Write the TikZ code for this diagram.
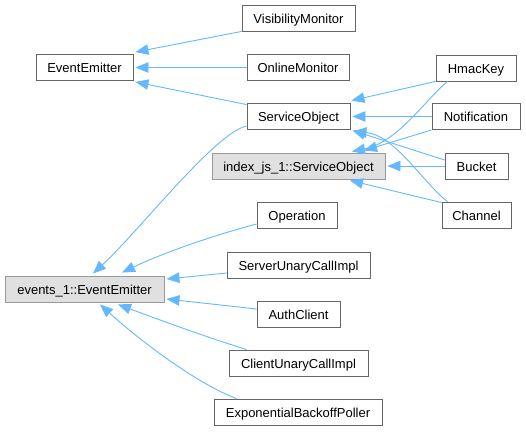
\documentclass[tikz,border=0pt]{standalone}
\usepackage{fontspec}
\setmainfont{Liberation Sans}
\usetikzlibrary{arrows.meta,calc}
\definecolor{edgeblue}{HTML}{63B8FF}
\definecolor{boxline}{HTML}{666666}
\definecolor{grayline}{HTML}{999999}
\definecolor{grayfill}{HTML}{E0E0E0}
\tikzset{
  box/.style={draw=boxline, line width=0.9pt, fill=white, minimum height=26pt, inner sep=0pt,
    font=\fontsize{13}{15}\selectfont, text height=11pt, text depth=1pt, align=center},
  graybox/.style={box, draw=grayline, fill=grayfill},
  edge/.style={draw=edgeblue, line width=0.9pt, -{Triangle[length=13pt,width=10.5pt]}},
}
\begin{document}
\begin{tikzpicture}[x=1pt,y=-1pt]
\useasboundingbox (0,0) rectangle (526,431);
% nodes
\node[box, minimum width=97pt] (EE) at (84.5,67.5) {EventEmitter};
\node[box, minimum width=113pt] (VM) at (298.5,18) {VisibilityMonitor};
\node[box, minimum width=102pt] (OM) at (298,67.5) {OnlineMonitor};
\node[box, minimum width=103pt] (SO) at (298.5,116) {ServiceObject};
\node[graybox, minimum width=173pt] (ISO) at (298.5,166) {index\_js\_1::ServiceObject};
\node[box, minimum width=80pt] (HK) at (476,68) {HmacKey};
\node[box, minimum width=88pt] (NT) at (476,116.5) {Notification};
\node[box, minimum width=63pt] (BK) at (476.5,166) {Bucket};
\node[box, minimum width=69pt] (CH) at (476.5,215) {Channel};
\node[box, minimum width=80pt] (OP) at (297,215) {Operation};
\node[box, minimum width=143pt] (SU) at (298.5,265) {ServerUnaryCallImpl};
\node[box, minimum width=83pt] (AC) at (298.5,314) {AuthClient};
\node[box, minimum width=139pt] (CU) at (298.5,363) {ClientUnaryCallImpl};
\node[box, minimum width=168pt] (EB) at (298,412) {ExponentialBackoffPoller};
\node[graybox, minimum width=159pt] (E1) at (84.5,289) {events\_1::EventEmitter};
% edges
\draw[edge] (VM.south west) -- ($(EE.north east)+(2,-2)$);
\draw[edge] (OM.west) -- ($(EE.east)+(2,0)$);
\draw[edge] ($(SO.north west)+(0,2)$) -- ($(EE.south east)+(2,1)$);
\draw[edge] ($(SO.west)+(0,10)$) .. controls (215,133) and (140,230) .. ($(E1.north)+(8.5,-2)$);
\draw[edge] (HK.south west) -- ($(SO.north east)+(1,-2)$);
\draw[edge] ($(HK.south west)+(12,0)$) .. controls (425,100) and (398,142) .. ($(ISO.north)+(53.5,-1)$);
\draw[edge] (NT.west) -- ($(NT.west -| SO.east)+(2,0)$);
\draw[edge] (NT.south west) -- ($(ISO.north)+(65.5,-2)$);
\draw[edge] ($(BK.west)+(0,-6)$) -- ($(SO.south east)+(2,1)$);
\draw[edge] (BK.west) -- ($(BK.west -| ISO.east)+(2,0)$);
\draw[edge] ($(CH.north west)+(6,0)$) .. controls (425,185) and (395,135) .. ($(SO.south east)+(3,2)$);
\draw[edge] ($(CH.north west)+(0,1)$) -- ($(ISO.south)+(51.5,1)$);
\draw[edge] ($(OP.west)+(0,9)$) .. controls (215,235) and (165,252) .. ($(E1.north)+(37.5,-3)$);
\draw[edge] ($(SU.west)+(0,8)$) -- ($(E1.east)+(2,-10)$);
\draw[edge] ($(AC.west)+(0,-5)$) -- ($(E1.east)+(2,10)$);
\draw[edge] ($(CU.north west)+(18,0)$) .. controls (200,335) and (160,320) .. ($(E1.south)+(33.5,2)$);
\draw[edge] ($(EB.north west)+(23,0)$) .. controls (200,385) and (145,345) .. ($(E1.south)+(15.5,2)$);
\end{tikzpicture}
\end{document}
